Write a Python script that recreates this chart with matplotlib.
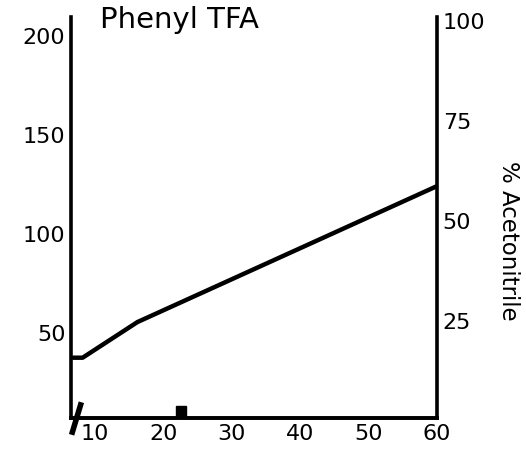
import matplotlib.pyplot as plt

# gradient trace (% acetonitrile vs time)
time_min = [6.8, 8.2, 16.2, 60.0]
pct_acn = [15.8, 15.8, 24.7, 58.7]

x_ticks = [10, 20, 30, 40, 50, 60]
left_ticks = [50, 100, 150, 200]
right_ticks = [25, 50, 75, 100]

# small marks drawn on the baseline
mark_x = [22.6]

fig = plt.figure(figsize=(5.26, 4.53), dpi=100)
ax = fig.add_axes([0.135, 0.077, 0.696, 0.885])
ax2 = ax.twinx()

ax.set_xlim(6.5, 60)
ax.set_ylim(6.9, 209.6)
ax2.set_ylim(0.7, 100.9)

ax2.plot(time_min, pct_acn, color='black', lw=3.2, solid_capstyle='round')
ax2.plot(mark_x, [2.4], marker='s', color='black', ms=7, clip_on=False)
ax2.plot([6.7, 7.9], [-2.8, 4.0], color='black', lw=4, clip_on=False)

for a in (ax, ax2):
    a.spines['top'].set_visible(False)
    for s in a.spines.values():
        s.set_linewidth(2.6)

ax2.spines['left'].set_visible(False)
ax.spines['right'].set_visible(False)

ax.set_xticks(x_ticks)
ax.set_yticks(left_ticks)
ax2.set_yticks(right_ticks)
ax.tick_params(axis='both', length=0, labelsize=16, pad=4)
ax2.tick_params(axis='y', length=0, labelsize=16, pad=4)

fig.text(0.19, 0.956, 'Phenyl TFA', fontsize=21, ha='left', va='center')
fig.text(0.966, 0.468, '% Acetonitrile', rotation=-90, fontsize=16.5,
         ha='center', va='center')

fig.savefig('out.png', dpi=100)
